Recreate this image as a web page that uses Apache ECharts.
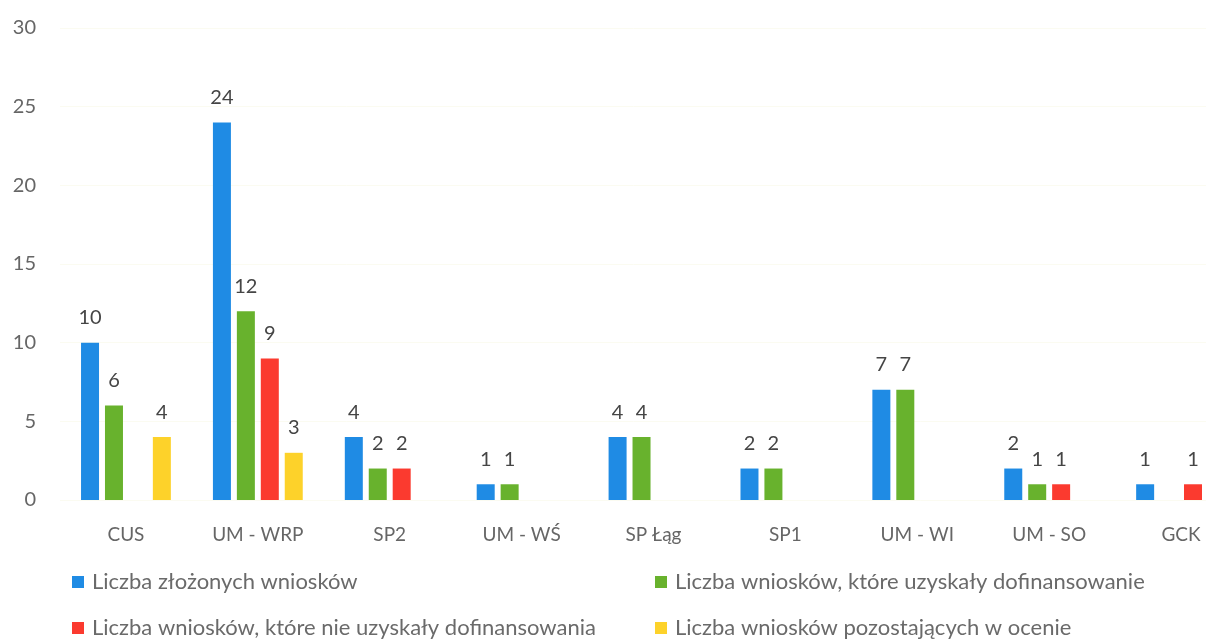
<!DOCTYPE html>
<html>
<head>
<meta charset="utf-8">
<script src="https://cdn.jsdelivr.net/npm/echarts@6/dist/echarts.min.js"></script>
<style>
  html, body { margin: 0; padding: 0; background: #fff; }
  #chart { width: 1206px; height: 639px; }
</style>
</head>
<body>
<div id="chart"></div>
<script>
const categories = ['CUS', 'UM - WRP', 'SP2', 'UM - WŚ', 'SP Łąg', 'SP1', 'UM - WI', 'UM - SO', 'GCK'];
const zlozone = [10, 24, 4, 1, 4, 2, 7, 2, 1];
const uzyskaly = [6, 12, 2, 1, 4, 2, 7, 1, null];
const nieUzyskaly = [null, 9, 2, null, null, null, null, 1, 1];
const wOcenie = [4, 3, null, null, null, null, null, null, null];
const yTicks = [0, 5, 10, 15, 20, 25, 30];

const seriesNames = [
  'Liczba złożonych wniosków',
  'Liczba wniosków, które uzyskały dofinansowanie',
  'Liczba wniosków, które nie uzyskały dofinansowania',
  'Liczba wniosków pozostających w ocenie'
];
const colors = ['#1f8be4', '#68b22d', '#fb3a2f', '#fdd22a'];
const values = [zlozone, uzyskaly, nieUzyskaly, wOcenie];

const font = 'Lato, "Open Sans", sans-serif';

const chart = echarts.init(document.getElementById('chart'));

// one legend per item so each can sit where the original puts it
const legendPos = [[72, 571], [655, 571], [72, 617], [655, 617]];
const legends = seriesNames.map((n, i) => ({
  data: [n],
  left: legendPos[i][0],
  top: legendPos[i][1],
  padding: 0,
  icon: 'rect',
  itemWidth: 12,
  itemHeight: 12,
  itemGap: 0,
  selectedMode: false,
  textStyle: { color: '#6a6a6a', fontSize: 22, lineHeight: 22, fontFamily: font, padding: [0, 0, 0, 3] }
}));

chart.setOption({
  animation: false,
  legend: legends,
  // the last group runs past the right edge in the original
  grid: { left: 60, top: 28, width: 1187, height: 472, outerBoundsMode: 'none', containLabel: false },
  xAxis: {
    type: 'category',
    data: categories,
    axisLine: { show: false },
    axisTick: { show: false },
    axisLabel: { color: '#666', fontSize: 19, fontFamily: font, margin: 25 }
  },
  yAxis: {
    type: 'value',
    min: yTicks[0],
    max: yTicks[yTicks.length - 1],
    interval: 5,
    axisLine: { show: false },
    axisTick: { show: false },
    splitLine: { lineStyle: { color: '#fbfbf1' } },
    axisLabel: { color: '#666', fontSize: 20, fontFamily: font, margin: 24 }
  },
  series: values.map((d, i) => ({
    name: seriesNames[i],
    type: 'bar',
    data: d,
    barWidth: 18,
    barGap: '33%',
    itemStyle: { color: colors[i] },
    label: {
      show: true,
      position: 'top',
      distance: 15,
      color: '#454545',
      fontSize: 20,
      fontFamily: font
    }
  }))
});
</script>
</body>
</html>
